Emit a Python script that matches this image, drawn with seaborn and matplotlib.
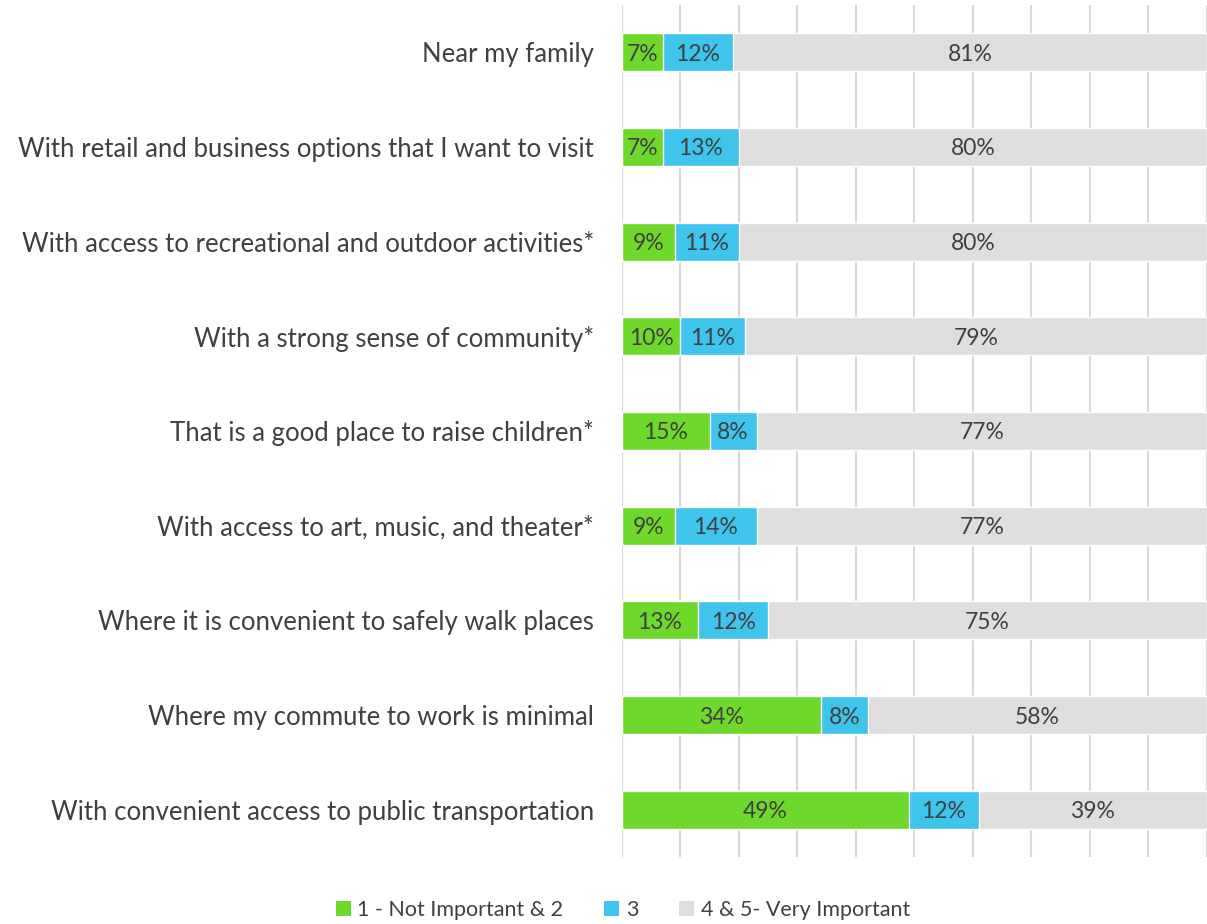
import pandas as pd
import matplotlib.pyplot as plt
import seaborn as sns
from matplotlib.patches import Patch

# Chart data (percent of respondents)
categories = [
    "Near my family",
    "With retail and business options that I want to visit",
    "With access to recreational and outdoor activities*",
    "With a strong sense of community*",
    "That is a good place to raise children*",
    "With access to art, music, and theater*",
    "Where it is convenient to safely walk places",
    "Where my commute to work is minimal",
    "With convenient access to public transportation",
]
not_important = [7, 7, 9, 10, 15, 9, 13, 34, 49]
neutral = [12, 13, 11, 11, 8, 14, 12, 8, 12]
very_important = [81, 80, 80, 79, 77, 77, 75, 58, 39]

series_names = ["1 - Not Important & 2", "3", "4 & 5- Very Important"]
colors = ["#6FD92B", "#3FC4EC", "#DEDEDE"]
text_color = "#404040"

df = pd.DataFrame({
    "category": categories,
    "low": not_important,
    "mid": neutral,
    "high": very_important,
})
# cumulative ends for stacking
df["end_low"] = df["low"]
df["end_mid"] = df["low"] + df["mid"]
df["end_high"] = df["end_mid"] + df["high"]

sns.set_style("white")
plt.rcParams["font.family"] = ["Lato", "DejaVu Sans"]

fig = plt.figure(figsize=(12.07, 9.24), dpi=100)
ax = fig.add_axes([0.5153, 0.0725, 0.4847, 0.9221])

# draw longest first so shorter segments sit on top
for col, c in zip(["end_high", "end_mid", "end_low"], colors[::-1]):
    sns.barplot(data=df, x=col, y="category", color=c, orient="h",
                width=0.4, saturation=1, ax=ax, zorder=3)

# value labels in the middle of each segment
for i, row in df.iterrows():
    starts = [0, row["end_low"], row["end_mid"]]
    vals = [row["low"], row["mid"], row["high"]]
    for s, v in zip(starts, vals):
        ax.text(s + v / 2, i, f"{v}%", ha="center", va="center_baseline",
                fontsize=16.5, color=text_color, zorder=4)

ax.set_xlim(0, 100)
ax.set_ylim(8.5, -0.5)
ax.set_xticks(range(0, 101, 10))
ax.set_xticklabels([])
ax.tick_params(axis="x", length=0)
ax.tick_params(axis="y", length=0, pad=20, labelsize=18.5, labelcolor=text_color)
ax.xaxis.grid(True, color="#D9D9D9", linewidth=1.5, zorder=0)
ax.yaxis.grid(False)
ax.set_axisbelow(True)
ax.set_xlabel("")
ax.set_ylabel("")
sns.despine(ax=ax, left=True, bottom=True)

handles = [Patch(facecolor=c, edgecolor="none") for c in colors]
fig.legend(handles, series_names, loc="center", bbox_to_anchor=(0.516, 0.015),
           ncol=3, frameon=False, fontsize=15.5, handlelength=0.7, handleheight=0.7,
           handletextpad=0.3, columnspacing=1.9, labelcolor=text_color)

fig.savefig("out.png", dpi=100)
